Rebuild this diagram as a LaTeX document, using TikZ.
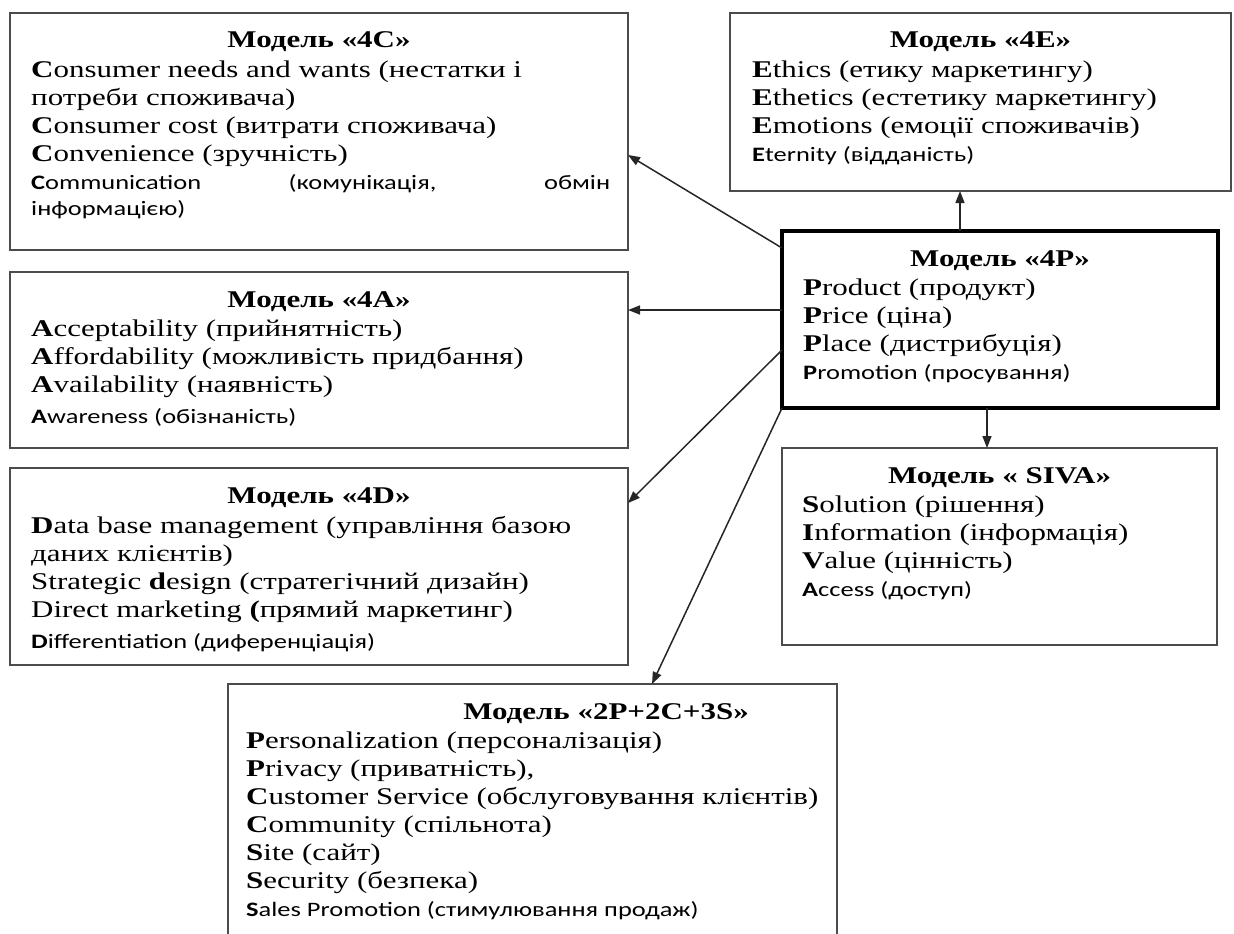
\documentclass[tikz,border=0pt]{standalone}
\usepackage{fontspec}
\setmainfont{Liberation Serif}[FakeStretch=1.29]
\newfontfamily\calib{Carlito}[FakeStretch=1.29]
\newcommand{\calfont}{\calib\fontsize{20.5}{26}\selectfont}
\usetikzlibrary{positioning,calc,arrows.meta}
\setlength{\parindent}{0pt}

\tikzset{
    model/.style={draw=black!70, line width=1.5pt, anchor=north west, inner sep=0pt, outer sep=0pt},
    core/.style={model, draw=black, line width=3.5pt},
    ttl/.style={anchor=base, inner sep=0pt, font=\bfseries\fontsize{24}{28}\selectfont},
    lst/.style={anchor=north west, inner sep=0pt, align=left, font=\fontsize{24}{28}\selectfont},
    arr/.style={-{Triangle[length=12pt,width=9pt]}, line width=1.5pt, draw=black!85}
}

\begin{document}
\begin{tikzpicture}[x=1pt, y=-1pt]
    \useasboundingbox (0,0) rectangle (1234,934);

    % Boxes
    \node[model, minimum width=618pt, minimum height=237pt] (m4c) at (10,13) {};
    \node[model, minimum width=501pt, minimum height=178pt] (m4e) at (730,13) {};
    \node[core, minimum width=436pt, minimum height=177pt] (m4p) at (782,231) {};
    \node[model, minimum width=618pt, minimum height=176pt] (m4a) at (10,272) {};
    \node[model, minimum width=618pt, minimum height=197pt] (m4d) at (10,468) {};
    \node[model, minimum width=435pt, minimum height=197pt] (msiva) at (782,448) {};
    \node[model, minimum width=609pt, minimum height=290pt] (m2p) at (228,684) {};

    % Model 4C
    \node[ttl] (t4c) at ($(m4c.north)+(0,35)$) {Модель «4C»};
    \node[lst] (l4c) at ($(m4c.north west)+(21,48)$) {\textbf{C}onsumer needs and wants (нестатки і\\
        потреби споживача)\\
        \textbf{C}onsumer cost (витрати споживача)\\
        \textbf{C}onvenience (зручність)\\
        {\calfont\makebox[579pt][s]{\textbf{C}ommunication (комунікація, обмін}}\\[-2pt]
        {\calfont інформацією)}};

    % Model 4E
    \node[ttl] (t4e) at ($(m4e.north)+(0,35)$) {Модель «4E»};
    \node[lst] (l4e) at ($(m4e.north west)+(22,48)$) {\textbf{E}thics (етику маркетингу)\\
        \textbf{E}thetics (естетику маркетингу)\\
        \textbf{E}motions (емоції споживачів)\\
        {\calfont\textbf{E}ternity (відданість)}};

    % Model 4P
    \node[ttl] (t4p) at ($(m4p.north)+(0,35)$) {Модель «4P»};
    \node[lst] (l4p) at ($(m4p.north west)+(21,48)$) {\textbf{P}roduct (продукт)\\
        \textbf{P}rice (ціна)\\
        \textbf{P}lace (дистрибуція)\\
        {\calfont\textbf{P}romotion (просування)}};

    % Model 4A
    \node[ttl] (t4a) at ($(m4a.north)+(0,35)$) {Модель «4A»};
    \node[lst] (l4a) at ($(m4a.north west)+(21,48)$) {\textbf{A}cceptability (прийнятність)\\
        \textbf{A}ffordability (можливість придбання)\\
        \textbf{A}vailability (наявність)\\[3pt]
        {\calfont\textbf{A}wareness (обізнаність)}};

    % Model 4D
    \node[ttl] (t4d) at ($(m4d.north)+(0,35)$) {Модель «4D»};
    \node[lst] (l4d) at ($(m4d.north west)+(21,48)$) {\textbf{D}ata base management (управління базою\\
        даних клієнтів)\\
        Strategic \textbf{d}esign (стратегічний дизайн)\\
        Direct marketing \textbf{(}прямий маркетинг)\\[3pt]
        {\calfont\textbf{D}ifferentiation (диференціація)}};

    % Model SIVA
    \node[ttl] (tsiva) at ($(msiva.north)+(0,35)$) {Модель « SIVA»};
    \node[lst] (lsiva) at ($(msiva.north west)+(20,48)$) {\textbf{S}olution (рішення)\\
        \textbf{I}nformation (інформація)\\
        \textbf{V}alue (цінність)\\
        {\calfont\textbf{A}ccess (доступ)}};

    % Model 2P+2C+3S
    \node[ttl] (t2p) at ($(m2p.north west)+(378,35)$) {Модель «2P+2C+3S»};
    \node[lst] (l2p) at ($(m2p.north west)+(18,48)$) {\textbf{P}ersonalization (персоналізація)\\
        \textbf{P}rivacy (приватність),\\
        \textbf{C}ustomer Service (обслуговування клієнтів)\\
        \textbf{C}ommunity (спільнота)\\
        \textbf{S}ite (сайт)\\
        \textbf{S}ecurity (безпека)\\
        {\calfont\textbf{S}ales Promotion (стимулювання продаж)}};

    % Connectors
    \draw[arr] ($(m4p.north west)+(0,17)$) -- ($(m4c.north east)+(0,142)$);
    \draw[arr] ($(m4p.north west)+(0,79)$) -- ($(m4a.north east)+(0,38)$);
    \draw[arr] ($(m4p.north west)+(0,119)$) -- ($(m4d.north east)+(0,35)$);
    \draw[arr] (m4p.south west) -- ($(m2p.north west)+(424,0)$);
    \draw[arr] ($(m4p.north west)+(178,0)$) -- ($(m4e.south west)+(230,0)$);
    \draw[arr] ($(m4p.south west)+(205,0)$) -- ($(msiva.north west)+(205,0)$);
\end{tikzpicture}
\end{document}
